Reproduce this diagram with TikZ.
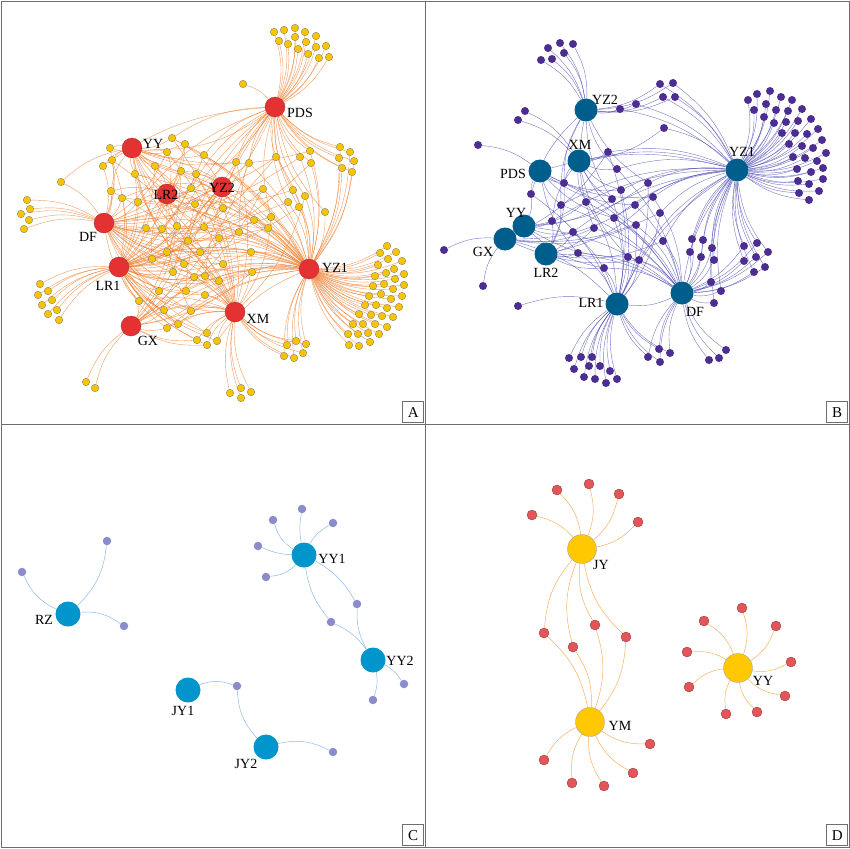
\documentclass[tikz,border=0pt]{standalone}
\usepackage{fontspec}
\setmainfont{Liberation Serif}
\usetikzlibrary{backgrounds}

\definecolor{redA}{RGB}{228,50,50}
\definecolor{yellowA}{RGB}{247,196,0}
\definecolor{orangeA}{RGB}{238,122,40}
\definecolor{tealB}{RGB}{0,94,140}
\definecolor{purpleB}{RGB}{76,46,146}
\definecolor{blueB}{RGB}{72,72,176}
\definecolor{blueC}{RGB}{0,150,204}
\definecolor{lilacC}{RGB}{140,140,202}
\definecolor{skyC}{RGB}{140,186,232}
\definecolor{yellowD}{RGB}{255,200,0}
\definecolor{redD}{RGB}{226,86,90}
\definecolor{orangeD}{RGB}{248,176,96}
\definecolor{frame}{RGB}{110,110,110}

% leaves: x/y/hubs
\def\leavesA{
    274/32/aPDS, 284/30/aPDS, 295/28/aPDS, 305/32/aPDS, 316/36/aPDS, 279/41/aPDS,
    288/44/aPDS, 295/37/aPDS, 306/42/aPDS, 316/47/aPDS, 326/46/aPDS, 298/49/aPDS,
    308/54/aPDS, 319/58/aPDS, 329/57/aPDS, 243/84/aPDS,
    27/200/aDF, 30/209/aDF, 21/214/aDF, 29/220/aDF, 24/229/aDF,
    40/284/aLR1, 48/291/aLR1, 38/295/aLR1, 52/300/aLR1, 42/305/aLR1, 57/310/aLR1,
    48/314/aLR1, 59/320/aLR1, 86/382/aGX, 95/388/aGX,
    230/393/aXM, 241/388/aXM, 251/392/aXM, 241/398/aXM,
    387/246/aYZ1, 396/252/aYZ1, 380/253/aYZ1, 388/259/aYZ1, 402/261/aYZ1, 378/265/aYZ1,
    394/269/aYZ1, 386/273/aYZ1, 404/274/aYZ1, 375/276/aYZ1, 395/279/aYZ1, 384/284/aYZ1,
    404/285/aYZ1, 373/286/aYZ1, 393/289/aYZ1, 381/294/aYZ1, 402/296/aYZ1, 369/296/aYZ1,
    391/299/aYZ1, 365/305/aYZ1, 376/305/aYZ1, 387/308/aYZ1, 399/307/aYZ1, 359/314/aYZ1,
    371/315/aYZ1, 382/316/aYZ1, 393/317/aYZ1, 353/324/aYZ1, 363/324/aYZ1, 375/324/aYZ1,
    387/327/aYZ1, 348/334/aYZ1, 358/334/aYZ1, 368/333/aYZ1, 379/334/aYZ1, 349/345/aYZ1,
    359/346/aYZ1, 370/342/aYZ1,
    340/147/{aPDS,aYZ1}, 350/152/{aPDS,aYZ1}, 354/161/{aPDS,aYZ1}, 339/158/{aPDS,aYZ1},
    342/168/{aPDS,aYZ1}, 352/172/{aPDS,aYZ1}, 310/151/{aPDS,aYZ1,aYY}, 300/157/{aPDS,aYZ1,aDF},
    311/163/{aPDS,aYZ1,aLR1}, 276/157/{aPDS,aYZ1,aLR1,aLR2}, 249/163/{aPDS,aDF,aYZ1,aGX},
    236/162/{aPDS,aLR1,aYY,aXM}, 293/190/{aPDS,aYZ1,aLR2}, 305/196/{aPDS,aYZ1,aXM},
    288/202/{aPDS,aYZ1,aDF}, 299/207/{aPDS,aYZ1,aLR1}, 325/212/{aPDS,aYZ1},
    263/189/{aYZ1,aYZ2,aLR1,aGX}, 271/217/{aYZ1,aDF,aPDS,aXM}, 254/220/{aYZ1,aLR1,aYZ2,aYY},
    268/228/{aYZ1,aDF,aLR2}, 239/232/{aYZ1,aLR1,aYY,aPDS}, 251/252/{aYZ1,aXM,aLR1,aDF},
    252/272/{aYZ1,aLR1,aDF,aGX}, 223/264/{aYZ1,aXM,aDF,aYY}, 219/281/{aXM,aLR1,aYZ1,aLR2},
    205/276/{aYZ1,aDF,aLR1,aPDS}, 194/277/{aXM,aLR1,aYZ1,aYY},
    172/138/{aYY,aYZ2,aPDS,aYZ1,aXM}, 185/144/{aYY,aLR2,aYZ1,aLR1}, 167/152/{aYY,aLR2,aDF,aXM},
    204/155/{aYY,aYZ1,aLR1,aPDS}, 155/166/{aYY,aLR2,aLR1,aYZ1}, 181/171/{aYZ2,aLR2,aDF,aYZ1,aGX},
    196/174/{aYZ2,aYY,aLR1,aXM}, 191/188/{aLR2,aYZ1,aDF,aPDS}, 223/208/{aYZ2,aPDS,aLR1,aXM},
    195/204/{aLR2,aYZ2,aDF,aYZ1,aGX}, 110/148/{aYY,aDF,aYZ1}, 112/160/{aYY,aDF,aLR1,aXM},
    103/166/{aYY,aDF,aPDS}, 135/174/{aYY,aLR2,aLR1,aYZ1}, 111/191/{aDF,aYY,aLR2,aXM},
    122/198/{aDF,aLR1,aYZ2,aYZ1}, 138/202/{aLR2,aDF,aLR1,aYZ1,aPDS}, 61/182/{aDF,aYY},
    146/228/{aDF,aLR1,aLR2,aYZ1,aXM}, 162/229/{aDF,aYZ2,aLR1,aXM,aYY}, 177/226/{aLR2,aYZ1,aLR1,aGX},
    204/227/{aYZ2,aLR1,aDF,aYZ1,aYY}, 219/238/{aYZ1,aLR2,aDF,aGX}, 188/241/{aLR1,aYZ1,aYZ2,aXM,aPDS},
    200/252/{aLR1,aYZ1,aYY,aDF}, 167/252/{aLR1,aDF,aYZ1,aPDS,aXM}, 152/259/{aLR1,aLR2,aXM,aYZ1},
    184/264/{aLR1,aYZ1,aDF,aGX,aYY}, 173/272/{aLR1,aXM,aYZ2,aDF}, 159/291/{aLR1,aGX,aYZ1,aDF},
    186/291/{aXM,aLR1,aDF,aYZ2,aYZ1}, 205/295/{aXM,aYZ1,aLR1,aGX}, 139/301/{aLR1,aGX,aDF,aXM},
    164/310/{aXM,aLR1,aGX,aYZ1}, 191/311/{aXM,aLR1,aLR2,aDF}, 167/328/{aGX,aXM,aLR1,aYZ1},
    178/324/{aXM,aLR1,aYZ1,aDF}, 197/340/{aXM,aLR1,aGX}, 207/333/{aXM,aLR1,aDF},
    207/345/{aXM,aGX,aLR1}, 217/341/{aXM,aLR1,aYZ1}, 287/345/{aYZ1,aXM}, 296/341/{aYZ1,aXM},
    306/344/{aYZ1,aXM}, 284/356/{aYZ1,aXM}, 294/358/{aYZ1,aXM}, 303/353/{aYZ1,aXM}}

\def\leavesB{
    548/48/bYZ2, 560/43/bYZ2, 573/44/bYZ2, 564/53/bYZ2, 541/60/bYZ2, 552/59/bYZ2,
    525/111/bXM, 518/120/bXM, 478/145/bPDS, 444/250/bGX, 483/286/bGX, 518/306/bLR1,
    748/100/bYZ1, 757/94/bYZ1, 770/91/bYZ1, 781/97/bYZ1, 792/100/bYZ1, 754/110/bYZ1,
    766/104/bYZ1, 776/110/bYZ1, 788/111/bYZ1, 802/109/bYZ1, 764/117/bYZ1, 774/123/bYZ1,
    786/122/bYZ1, 798/121/bYZ1, 811/119/bYZ1, 782/133/bYZ1, 795/133/bYZ1, 807/134/bYZ1,
    818/129/bYZ1, 789/144/bYZ1, 802/146/bYZ1, 813/148/bYZ1, 822/140/bYZ1, 793/157/bYZ1,
    805/158/bYZ1, 817/161/bYZ1, 826/153/bYZ1, 797/169/bYZ1, 811/172/bYZ1, 823/168/bYZ1,
    798/181/bYZ1, 809/184/bYZ1, 823/179/bYZ1, 799/193/bYZ1, 809/200/bYZ1, 819/191/bYZ1,
    569/358/bLR1, 581/357/bLR1, 592/357/bLR1, 600/366/bLR1, 574/369/bLR1, 589/366/bLR1,
    610/371/bLR1, 584/377/bLR1, 595/379/bLR1, 606/383/bLR1, 617/379/bLR1,
    709/360/bDF, 719/358/bDF, 726/350/bDF,
    648/357/{bLR1,bDF}, 659/349/{bLR1,bDF}, 670/353/{bLR1,bDF}, 660/362/{bLR1,bDF},
    620/109/{bYZ2,bYZ1}, 636/104/{bYZ2,bYZ1}, 660/84/{bYZ2,bYZ1}, 673/83/{bYZ2,bYZ1},
    663/97/{bYZ2,bYZ1}, 675/97/{bYZ2,bYZ1}, 664/128/{bYZ1,bXM},
    692/239/{bDF,bYZ1}, 703/240/{bDF,bYZ1}, 690/252/{bDF,bYZ1}, 701/257/{bDF,bYZ1},
    712/248/{bDF,bYZ1}, 714/260/{bDF,bYZ1}, 711/282/{bDF,bYZ1}, 721/291/{bDF,bYZ1},
    714/303/{bDF,bYZ1},
    744/246/{bYZ1,bDF}, 757/243/{bYZ1,bDF}, 768/252/{bYZ1,bDF}, 744/261/{bYZ1,bDF},
    756/257/{bYZ1,bDF}, 765/267/{bYZ1,bDF}, 754/272/{bYZ1,bDF},
    608/152/{bXM,bYZ1,bLR1,bGX}, 617/169/{bXM,bYZ2,bDF,bYZ1}, 564/183/{bPDS,bXM,bLR2,bYZ2,bDF},
    531/194/{bPDS,bYY,bYZ2,bLR1}, 648/183/{bYZ1,bLR1,bYZ2,bYY}, 621/190/{bXM,bLR1,bYZ1,bPDS},
    653/197/{bYZ1,bLR2,bDF,bPDS}, 612/199/{bXM,bLR1,bYY,bYZ2}, 635/205/{bDF,bPDS,bYZ1,bGX},
    586/202/{bXM,bYY,bLR1,bDF}, 561/205/{bPDS,bLR2,bDF,bYZ2,bYZ1}, 660/213/{bYZ1,bGX,bLR1},
    614/218/{bLR1,bPDS,bYZ1,bDF}, 552/221/{bYY,bLR2,bYZ1,bXM}, 594/228/{bLR2,bDF,bYZ2,bGX},
    636/225/{bDF,bLR1,bGX,bXM}, 573/232/{bLR2,bYY,bLR1,bYZ1}, 663/241/{bDF,bYZ1,bLR2},
    578/253/{bLR2,bLR1,bDF,bPDS}, 628/257/{bLR1,bDF,bYY,bXM}, 639/260/{bLR1,bDF,bYZ1,bGX},
    604/268/{bLR1,bYY,bLR2,bDF}}

\def\leavesC{
    107/541/cRZ/20, 22/572/cRZ/-20, 124/626/cRZ/-20,
    302/509/cYY1/-10, 273/520/cYY1/-20, 333/523/cYY1/-15, 258/546/cYY1/-10, 266/577/cYY1/-20,
    357/604/{cYY1,cYY2}/-15, 331/622/{cYY1,cYY2}/15,
    404/684/cYY2/-15, 373/700/cYY2/-15, 237/686/{cJY1,cJY2}/-20, 333/752/cJY2/-20}

\def\leavesD{
    532/515/dJY, 557/490/dJY, 589/484/dJY, 619/494/dJY, 638/522/dJY,
    544/633/{dJY,dYM}, 573/647/{dJY,dYM}, 595/625/{dJY,dYM}, 626/637/{dJY,dYM},
    544/760/dYM, 572/783/dYM, 604/786/dYM, 633/773/dYM, 650/744/dYM,
    687/652/dYY, 704/621/dYY, 742/608/dYY, 776/626/dYY, 791/662/dYY,
    689/687/dYY, 726/714/dYY, 757/712/dYY, 785/696/dYY}

\begin{document}
\begin{tikzpicture}[x=1pt, y=-1pt,
    lab/.style={font=\fontsize{14}{16}\selectfont, inner sep=0pt},
    panellab/.style={draw=frame, line width=0.6pt, minimum size=21pt, inner sep=0pt,
        font=\fontsize{15}{16}\selectfont},
    hubA/.style={circle, fill=redA, draw=redA!70!black, line width=0.3pt, minimum size=20pt, inner sep=0pt},
    leafA/.style={circle, fill=yellowA, draw=black!55, line width=0.3pt, minimum size=7.5pt, inner sep=0pt},
    edgeA/.style={draw=orangeA, opacity=0.75, line width=0.4pt},
    hubB/.style={circle, fill=tealB, minimum size=23pt, inner sep=0pt},
    leafB/.style={circle, fill=purpleB, minimum size=8pt, inner sep=0pt},
    edgeB/.style={draw=blueB, opacity=0.75, line width=0.4pt},
    hubC/.style={circle, fill=blueC, minimum size=25pt, inner sep=0pt},
    leafC/.style={circle, fill=lilacC, minimum size=8.5pt, inner sep=0pt},
    edgeC/.style={draw=skyC, line width=0.5pt},
    hubD/.style={circle, fill=yellowD, draw=black!40, line width=0.3pt, minimum size=29pt, inner sep=0pt},
    leafD/.style={circle, fill=redD, draw=redD!60!black, line width=0.3pt, minimum size=10pt, inner sep=0pt},
    edgeD/.style={draw=orangeD, line width=0.5pt}]

    \useasboundingbox (0,0) rectangle (850,848);

    % frame and panel labels
    \draw[frame, line width=0.8pt] (1,1) rectangle (849,847);
    \draw[frame, line width=0.8pt] (425,1) -- (425,847);
    \draw[frame, line width=0.8pt] (1,424) -- (849,424);
    \node[panellab, anchor=south east] (labA) at (424,423) {A};
    \node[panellab, anchor=south east] (labB) at (848,423) {B};
    \node[panellab, anchor=south east] (labC) at (424,846) {C};
    \node[panellab, anchor=south east] (labD) at (848,846) {D};

    % panel A
    \node[hubA] (aPDS) at (275,107) {};
    \node[hubA] (aYY) at (132,148) {};
    \node[hubA] (aLR2) at (167,194) {};
    \node[hubA] (aYZ2) at (222,187) {};
    \node[hubA] (aDF) at (104,223) {};
    \node[hubA] (aLR1) at (119,267) {};
    \node[hubA] (aYZ1) at (309,269) {};
    \node[hubA] (aXM) at (235,312) {};
    \node[hubA] (aGX) at (131,326) {};
    \foreach \x/\y/\hl [count=\i] in \leavesA
        \node[leafA] (la\i) at (\x,\y) {};

    \node[lab] (aPDSt) at (300,113) {PDS};
    \node[lab] (aYYt) at (153,144) {YY};
    \node[lab] (aLR2t) at (166,195) {LR2};
    \node[lab] (aYZ2t) at (222,188) {YZ2};
    \node[lab] (aDFt) at (88,237) {DF};
    \node[lab] (aLR1t) at (108,286) {LR1};
    \node[lab] (aYZ1t) at (335,268) {YZ1};
    \node[lab] (aXMt) at (258,319) {XM};
    \node[lab] (aGXt) at (148,341) {GX};

    % panel B
    \node[hubB] (bYZ2) at (586,110) {};
    \node[hubB] (bXM) at (579,161) {};
    \node[hubB] (bPDS) at (540,171) {};
    \node[hubB] (bYZ1) at (737,170) {};
    \node[hubB] (bYY) at (524,226) {};
    \node[hubB] (bGX) at (505,239) {};
    \node[hubB] (bLR2) at (546,254) {};
    \node[hubB] (bLR1) at (617,304) {};
    \node[hubB] (bDF) at (682,293) {};
    \foreach \x/\y/\hl [count=\i] in \leavesB
        \node[leafB] (lb\i) at (\x,\y) {};

    \node[lab] (bYZ2t) at (605,100) {YZ2};
    \node[lab] (bXMt) at (580,145) {XM};
    \node[lab] (bPDSt) at (513,174) {PDS};
    \node[lab] (bYZ1t) at (742,152) {YZ1};
    \node[lab] (bYYt) at (516,213) {YY};
    \node[lab] (bGXt) at (483,252) {GX};
    \node[lab] (bLR2t) at (546,273) {LR2};
    \node[lab] (bLR1t) at (591,303) {LR1};
    \node[lab] (bDFt) at (695,312) {DF};

    % panel C
    \node[hubC] (cRZ) at (68,614) {};
    \node[hubC] (cYY1) at (304,555) {};
    \node[hubC] (cYY2) at (373,660) {};
    \node[hubC] (cJY1) at (188,690) {};
    \node[hubC] (cJY2) at (266,747) {};
    \foreach \x/\y/\hl/\b [count=\i] in \leavesC
        \node[leafC] (lc\i) at (\x,\y) {};

    \node[lab] (cRZt) at (44,620) {RZ};
    \node[lab] (cYY1t) at (332,559) {YY1};
    \node[lab] (cYY2t) at (400,661) {YY2};
    \node[lab] (cJY1t) at (183,711) {JY1};
    \node[lab] (cJY2t) at (246,764) {JY2};

    % panel D
    \node[hubD] (dJY) at (582,549) {};
    \node[hubD] (dYM) at (590,722) {};
    \node[hubD] (dYY) at (738,668) {};
    \foreach \x/\y/\hl [count=\i] in \leavesD
        \node[leafD] (ld\i) at (\x,\y) {};

    \node[lab] (dJYt) at (601,565) {JY};
    \node[lab] (dYMt) at (620,726) {YM};
    \node[lab] (dYYt) at (763,681) {YY};

    % all edges behind the nodes
    \begin{scope}[on background layer]
        \foreach \s/\t in {aYY/aYZ1, aDF/aYZ1, aLR1/aYZ1, aLR2/aYZ1, aGX/aYZ1, aYY/aXM,
                aPDS/aDF, aPDS/aLR1, aYZ2/aLR1, aXM/aLR1, aPDS/aYY, aGX/aXM}
            \draw[edgeA] (\s) to[bend left=20] (\t);
        \foreach \x/\y/\hl [count=\i] in \leavesA
            \foreach \h in \hl \draw[edgeA] (la\i) to[bend left=15] (\h);
        \foreach \s/\t in {bLR1/bYZ1, bDF/bYZ1, bXM/bYZ1, bPDS/bYZ1, bDF/bLR1, bGX/bLR1,
                bLR2/bDF, bYY/bDF}
            \draw[edgeB] (\s) to[bend left=15] (\t);
        \foreach \x/\y/\hl [count=\i] in \leavesB
            \foreach \h in \hl \draw[edgeB] (lb\i) to[bend left=15] (\h);
        \foreach \x/\y/\hl/\b [count=\i] in \leavesC
            \foreach \h in \hl \draw[edgeC] (lc\i) to[bend left=\b] (\h);
        \foreach \x/\y/\hl [count=\i] in \leavesD
            \foreach \h in \hl \draw[edgeD] (ld\i) to[bend left=18] (\h);
    \end{scope}
\end{tikzpicture}
\end{document}
